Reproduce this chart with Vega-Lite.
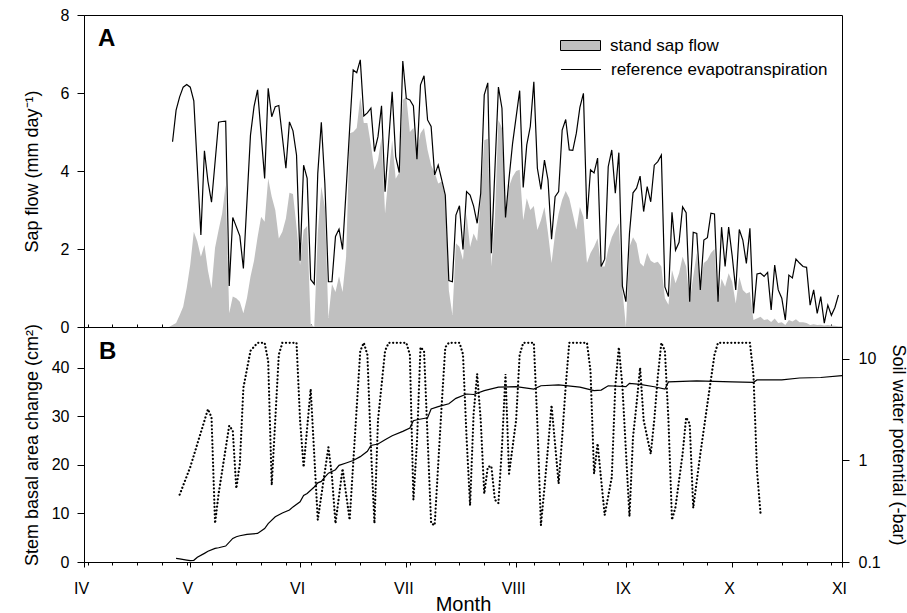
{
"$schema": "https://vega.github.io/schema/vega-lite/v6.json",
"background": "white",
"padding": {"left": 22, "top": 6, "right": 5, "bottom": 5},
"spacing": 0,
"bounds": "flush",
"config": {
  "view": {"stroke": "black", "strokeWidth": 1},
  "font": "Liberation Sans",
  "axis": {"domainColor": "black", "tickColor": "black", "labelColor": "black", "titleColor": "black", "labelFont": "Liberation Sans", "titleFont": "Liberation Sans", "labelFontSize": 16, "titleFontSize": 18, "titleFontWeight": "normal", "grid": false, "domainWidth": 1, "tickWidth": 1},
  "axisX": {"labelOverlap": false}
},
"datasets": {
  "panelA": [{"label": "A"}],
  "panelB": [{"label": "B"}],
  "sap": [
    {"d":24,"sap":0},{"d":25,"sap":0.05},{"d":26,"sap":0.1},{"d":27,"sap":0.3},{"d":28,"sap":0.52},{"d":29,"sap":1.0},{"d":30,"sap":1.6},{"d":31,"sap":2.44},{"d":32,"sap":2.19},{"d":33,"sap":1.8},{"d":34,"sap":2.1},{"d":35,"sap":1.44},{"d":36,"sap":0.99},{"d":37,"sap":2.03},{"d":38,"sap":2.49},{"d":39,"sap":2.91},{"d":40,"sap":3.64},{"d":41,"sap":0.35},{"d":42,"sap":0.78},{"d":43,"sap":0.74},{"d":44,"sap":0.65},{"d":45,"sap":0.35},{"d":46,"sap":0.74},{"d":47,"sap":1.29},{"d":48,"sap":1.7},{"d":49,"sap":2.3},{"d":50,"sap":2.83},{"d":51,"sap":2.7},{"d":52,"sap":3.81},{"d":53,"sap":3.34},{"d":54,"sap":3.0},{"d":55,"sap":2.27},{"d":56,"sap":2.44},{"d":57,"sap":2.78},{"d":58,"sap":3.44},{"d":59,"sap":3.41},{"d":60,"sap":2.57},{"d":61,"sap":1.59},{"d":62,"sap":2.49},{"d":63,"sap":2.59},{"d":64,"sap":0.08},{"d":65,"sap":0.0},{"d":66,"sap":2.4},{"d":67,"sap":3.6},{"d":68,"sap":3.08},{"d":69,"sap":0.23},{"d":70,"sap":1.1},{"d":71,"sap":0.9},{"d":72,"sap":1.3},{"d":73,"sap":0.9},{"d":74,"sap":1.8},{"d":75,"sap":4.97},{"d":76,"sap":5.0},{"d":77,"sap":5.1},{"d":78,"sap":5.9},{"d":79,"sap":5.23},{"d":80,"sap":5.23},{"d":81,"sap":4.67},{"d":82,"sap":4.03},{"d":83,"sap":4.28},{"d":84,"sap":4.85},{"d":85,"sap":2.91},{"d":86,"sap":3.9},{"d":87,"sap":4.79},{"d":88,"sap":3.8},{"d":89,"sap":3.96},{"d":90,"sap":5.82},{"d":91,"sap":5.9},{"d":92,"sap":5.0},{"d":93,"sap":5.1},{"d":94,"sap":4.54},{"d":95,"sap":4.97},{"d":96,"sap":5.1},{"d":97,"sap":4.54},{"d":98,"sap":4.15},{"d":99,"sap":3.96},{"d":100,"sap":3.68},{"d":101,"sap":3.73},{"d":102,"sap":3.34},{"d":103,"sap":0.95},{"d":104,"sap":0.31},{"d":105,"sap":2.15},{"d":106,"sap":2.06},{"d":107,"sap":1.72},{"d":108,"sap":2.9},{"d":109,"sap":2.05},{"d":110,"sap":2.4},{"d":111,"sap":2.2},{"d":112,"sap":3.3},{"d":113,"sap":4.79},{"d":114,"sap":4.83},{"d":115,"sap":1.55},{"d":116,"sap":2.8},{"d":117,"sap":5.31},{"d":118,"sap":5.1},{"d":119,"sap":2.82},{"d":120,"sap":3.6},{"d":121,"sap":3.85},{"d":122,"sap":4.0},{"d":123,"sap":4.03},{"d":124,"sap":2.74},{"d":125,"sap":3.3},{"d":126,"sap":3.0},{"d":127,"sap":3.1},{"d":128,"sap":2.49},{"d":129,"sap":2.74},{"d":130,"sap":3.08},{"d":131,"sap":2.41},{"d":132,"sap":1.64},{"d":133,"sap":2.4},{"d":134,"sap":2.91},{"d":135,"sap":3.26},{"d":136,"sap":3.49},{"d":137,"sap":3.3},{"d":138,"sap":2.9},{"d":139,"sap":2.5},{"d":140,"sap":3.08},{"d":141,"sap":2.82},{"d":142,"sap":1.64},{"d":143,"sap":1.9},{"d":144,"sap":2.06},{"d":145,"sap":2.27},{"d":146,"sap":1.55},{"d":147,"sap":1.55},{"d":148,"sap":2.0},{"d":149,"sap":2.3},{"d":150,"sap":2.49},{"d":151,"sap":2.66},{"d":152,"sap":0.95},{"d":153,"sap":0.0},{"d":154,"sap":2.06},{"d":155,"sap":2.3},{"d":156,"sap":2.15},{"d":157,"sap":1.64},{"d":158,"sap":1.55},{"d":159,"sap":1.9},{"d":160,"sap":1.7},{"d":161,"sap":1.64},{"d":162,"sap":1.67},{"d":163,"sap":1.55},{"d":164,"sap":0.74},{"d":165,"sap":0.57},{"d":166,"sap":1.46},{"d":167,"sap":1.12},{"d":168,"sap":1.38},{"d":169,"sap":1.8},{"d":170,"sap":1.55},{"d":171,"sap":0.65},{"d":172,"sap":1.29},{"d":173,"sap":1.9},{"d":174,"sap":1.12},{"d":175,"sap":1.64},{"d":176,"sap":1.72},{"d":177,"sap":1.9},{"d":178,"sap":2.0},{"d":179,"sap":0.65},{"d":180,"sap":1.24},{"d":181,"sap":1.03},{"d":182,"sap":1.38},{"d":183,"sap":1.16},{"d":184,"sap":0.6},{"d":185,"sap":1.29},{"d":186,"sap":0.95},{"d":187,"sap":0.86},{"d":188,"sap":0.9},{"d":189,"sap":0.18},{"d":190,"sap":0.22},{"d":191,"sap":0.26},{"d":192,"sap":0.18},{"d":193,"sap":0.2},{"d":194,"sap":0.13},{"d":195,"sap":0.22},{"d":196,"sap":0.1},{"d":197,"sap":0.12},{"d":198,"sap":0.05},{"d":199,"sap":0.18},{"d":200,"sap":0.14},{"d":201,"sap":0.2},{"d":202,"sap":0.12},{"d":203,"sap":0.12},{"d":204,"sap":0.1},{"d":205,"sap":0.05},{"d":206,"sap":0.07},{"d":207,"sap":0.05},{"d":208,"sap":0.06},{"d":209,"sap":0.04},{"d":210,"sap":0.05},{"d":211,"sap":0.04},{"d":212,"sap":0.03},{"d":213,"sap":0.02},{"d":214,"sap":0.02}
  ],
  "et": [
    {"d":25,"et":4.75},{"d":26,"et":5.56},{"d":27,"et":5.9},{"d":28,"et":6.15},{"d":29,"et":6.22},{"d":30,"et":6.15},{"d":31,"et":5.8},{"d":33,"et":2.36},{"d":34,"et":4.52},{"d":35,"et":3.73},{"d":36,"et":3.2},{"d":38,"et":5.25},{"d":39,"et":5.27},{"d":40,"et":5.28},{"d":41,"et":1.05},{"d":42,"et":2.81},{"d":44,"et":2.33},{"d":45,"et":1.5},{"d":47,"et":4.92},{"d":48,"et":5.65},{"d":49,"et":6.08},{"d":51,"et":3.81},{"d":52,"et":6.12},{"d":53,"et":5.39},{"d":54,"et":5.65},{"d":55,"et":5.68},{"d":57,"et":4.07},{"d":58,"et":5.26},{"d":59,"et":5.03},{"d":60,"et":4.41},{"d":61,"et":1.7},{"d":62,"et":4.15},{"d":63,"et":3.81},{"d":64,"et":1.22},{"d":65,"et":1.1},{"d":66,"et":3.94},{"d":67,"et":5.25},{"d":68,"et":3.68},{"d":69,"et":1.16},{"d":70,"et":1.16},{"d":71,"et":2.32},{"d":72,"et":2.51},{"d":73,"et":1.99},{"d":74,"et":3.51},{"d":75,"et":5.09},{"d":76,"et":6.59},{"d":77,"et":6.52},{"d":78,"et":6.85},{"d":79,"et":5.41},{"d":80,"et":5.49},{"d":81,"et":5.61},{"d":82,"et":4.5},{"d":83,"et":4.88},{"d":84,"et":5.67},{"d":85,"et":3.47},{"d":87,"et":6.03},{"d":88,"et":4.37},{"d":89,"et":3.96},{"d":90,"et":6.82},{"d":91,"et":5.86},{"d":92,"et":5.82},{"d":93,"et":5.67},{"d":94,"et":4.3},{"d":95,"et":6.21},{"d":96,"et":6.44},{"d":97,"et":5.31},{"d":98,"et":5.14},{"d":99,"et":3.9},{"d":100,"et":4.15},{"d":101,"et":3.77},{"d":102,"et":3.38},{"d":103,"et":1.19},{"d":104,"et":1.16},{"d":105,"et":2.87},{"d":106,"et":3.11},{"d":107,"et":1.99},{"d":108,"et":3.47},{"d":109,"et":3.38},{"d":110,"et":3.1},{"d":111,"et":2.66},{"d":112,"et":3.43},{"d":113,"et":5.95},{"d":114,"et":6.26},{"d":115,"et":1.89},{"d":117,"et":6.15},{"d":118,"et":5.61},{"d":119,"et":2.81},{"d":120,"et":3.81},{"d":121,"et":4.71},{"d":123,"et":6.06},{"d":124,"et":3.58},{"d":125,"et":4.67},{"d":126,"et":5.14},{"d":127,"et":6.29},{"d":128,"et":4.07},{"d":129,"et":3.53},{"d":130,"et":4.28},{"d":131,"et":3.77},{"d":132,"et":2.25},{"d":133,"et":3.34},{"d":134,"et":3.47},{"d":135,"et":5.05},{"d":136,"et":5.32},{"d":137,"et":4.54},{"d":138,"et":4.53},{"d":139,"et":4.97},{"d":140,"et":5.63},{"d":141,"et":5.99},{"d":142,"et":2.77},{"d":143,"et":4.03},{"d":144,"et":3.95},{"d":145,"et":4.33},{"d":146,"et":1.55},{"d":147,"et":1.74},{"d":148,"et":4.11},{"d":149,"et":4.54},{"d":150,"et":3.43},{"d":151,"et":4.47},{"d":152,"et":1.05},{"d":153,"et":0.65},{"d":154,"et":2.4},{"d":155,"et":3.44},{"d":156,"et":3.56},{"d":157,"et":3.87},{"d":158,"et":2.96},{"d":159,"et":3.6},{"d":160,"et":3.21},{"d":161,"et":4.15},{"d":162,"et":4.24},{"d":163,"et":4.41},{"d":164,"et":1.03},{"d":165,"et":0.78},{"d":166,"et":2.94},{"d":167,"et":1.97},{"d":168,"et":2.17},{"d":169,"et":3.08},{"d":170,"et":2.93},{"d":171,"et":0.65},{"d":172,"et":2.43},{"d":173,"et":2.4},{"d":174,"et":0.95},{"d":175,"et":2.23},{"d":176,"et":2.29},{"d":177,"et":2.92},{"d":178,"et":2.9},{"d":179,"et":0.65},{"d":180,"et":2.56},{"d":181,"et":1.55},{"d":182,"et":2.56},{"d":183,"et":1.82},{"d":184,"et":0.95},{"d":185,"et":2.5},{"d":186,"et":2.23},{"d":187,"et":1.63},{"d":188,"et":2.53},{"d":189,"et":0.35},{"d":190,"et":1.36},{"d":191,"et":1.38},{"d":192,"et":1.3},{"d":193,"et":1.4},{"d":194,"et":0.44},{"d":195,"et":1.59},{"d":196,"et":0.95},{"d":197,"et":0.74},{"d":198,"et":0.18},{"d":199,"et":1.33},{"d":200,"et":1.26},{"d":201,"et":1.74},{"d":202,"et":1.64},{"d":203,"et":1.55},{"d":204,"et":1.53},{"d":205,"et":0.56},{"d":206,"et":0.95},{"d":207,"et":0.35},{"d":208,"et":0.78},{"d":209,"et":0.1},{"d":210,"et":0.56},{"d":211,"et":0.3},{"d":212,"et":0.5},{"d":213,"et":0.82}
  ],
  "basal": [
    {"d":26,"basal":0.75},{"d":27,"basal":0.65},{"d":29,"basal":0.4},{"d":30,"basal":0.27},{"d":31,"basal":0.35},{"d":32,"basal":0.96},{"d":34,"basal":1.78},{"d":35,"basal":2.2},{"d":37,"basal":2.8},{"d":38,"basal":2.94},{"d":40,"basal":3.28},{"d":42,"basal":4.85},{"d":43,"basal":5.2},{"d":44,"basal":5.4},{"d":46,"basal":5.7},{"d":49,"basal":5.88},{"d":51,"basal":6.9},{"d":52,"basal":7.9},{"d":54,"basal":9.3},{"d":56,"basal":10.1},{"d":58,"basal":10.7},{"d":59,"basal":11.35},{"d":61,"basal":12.4},{"d":62,"basal":13.7},{"d":63,"basal":14.1},{"d":65,"basal":15.45},{"d":66,"basal":16.3},{"d":67,"basal":16.6},{"d":68,"basal":17.5},{"d":69,"basal":18.3},{"d":71,"basal":19.0},{"d":72,"basal":19.9},{"d":74,"basal":20.4},{"d":76,"basal":20.9},{"d":78,"basal":21.7},{"d":80,"basal":22.8},{"d":81,"basal":24.0},{"d":83,"basal":24.3},{"d":85,"basal":25.2},{"d":87,"basal":26.0},{"d":90,"basal":26.9},{"d":92,"basal":27.6},{"d":93,"basal":29.1},{"d":94,"basal":29.3},{"d":97,"basal":29.7},{"d":98,"basal":31.5},{"d":100,"basal":32.0},{"d":103,"basal":32.6},{"d":105,"basal":33.7},{"d":108,"basal":34.6},{"d":110,"basal":34.5},{"d":113,"basal":35.3},{"d":117,"basal":36.0},{"d":122,"basal":36.1},{"d":127,"basal":35.6},{"d":129,"basal":36.3},{"d":134,"basal":36.5},{"d":140,"basal":36.0},{"d":144,"basal":35.3},{"d":146,"basal":35.4},{"d":148,"basal":36.3},{"d":153,"basal":36.1},{"d":154,"basal":36.8},{"d":157,"basal":36.6},{"d":161,"basal":36.1},{"d":164,"basal":35.6},{"d":165,"basal":37.1},{"d":173,"basal":37.3},{"d":183,"basal":37.1},{"d":189,"basal":37.0},{"d":190,"basal":37.5},{"d":197,"basal":37.5},{"d":202,"basal":37.9},{"d":208,"basal":38.0},{"d":214,"basal":38.4}
  ],
  "swp": [
    {"d":27,"swp":0.46},{"d":30,"swp":0.86},{"d":35,"swp":3.2},{"d":36,"swp":2.65},{"d":37,"swp":0.24},{"d":38,"swp":0.47},{"d":41,"swp":2.2},{"d":42,"swp":1.97},{"d":43,"swp":0.53},{"d":44,"swp":0.93},{"d":45,"swp":5.2},{"d":47,"swp":12.0},{"d":49,"swp":14.4},{"d":51,"swp":14.4},{"d":52,"swp":9.5},{"d":53,"swp":0.57},{"d":55,"swp":11.0},{"d":56,"swp":14.4},{"d":60,"swp":14.4},{"d":61,"swp":2.5},{"d":62,"swp":0.86},{"d":64,"swp":5.05},{"d":66,"swp":0.26},{"d":67,"swp":0.45},{"d":69,"swp":1.35},{"d":70,"swp":0.7},{"d":71,"swp":0.24},{"d":73,"swp":0.83},{"d":75,"swp":0.26},{"d":76,"swp":0.93},{"d":78,"swp":12.0},{"d":79,"swp":14.4},{"d":80,"swp":11.0},{"d":81,"swp":1.35},{"d":82,"swp":0.24},{"d":83,"swp":2.5},{"d":85,"swp":12.0},{"d":86,"swp":14.4},{"d":91,"swp":14.4},{"d":92,"swp":11.0},{"d":93,"swp":0.41},{"d":94,"swp":1.5},{"d":95,"swp":13.0},{"d":96,"swp":12.0},{"d":98,"swp":0.24},{"d":99,"swp":0.23},{"d":101,"swp":3.6},{"d":102,"swp":13.0},{"d":103,"swp":14.4},{"d":106,"swp":14.4},{"d":107,"swp":11.1},{"d":108,"swp":1.7},{"d":109,"swp":0.36},{"d":110,"swp":2.9},{"d":111,"swp":7.1},{"d":112,"swp":2.5},{"d":113,"swp":0.47},{"d":114,"swp":0.86},{"d":115,"swp":0.88},{"d":116,"swp":0.41},{"d":117,"swp":0.38},{"d":118,"swp":1.35},{"d":119,"swp":7.1},{"d":120,"swp":0.74},{"d":122,"swp":2.5},{"d":123,"swp":11.0},{"d":124,"swp":14.4},{"d":127,"swp":14.4},{"d":128,"swp":2.3},{"d":129,"swp":0.23},{"d":130,"swp":0.54},{"d":131,"swp":1.35},{"d":132,"swp":3.5},{"d":134,"swp":0.59},{"d":135,"swp":1.7},{"d":136,"swp":5.4},{"d":137,"swp":14.4},{"d":142,"swp":14.4},{"d":143,"swp":7.6},{"d":144,"swp":0.74},{"d":145,"swp":1.47},{"d":146,"swp":0.65},{"d":147,"swp":0.29},{"d":149,"swp":0.68},{"d":150,"swp":5.4},{"d":151,"swp":13.0},{"d":152,"swp":5.4},{"d":154,"swp":0.28},{"d":155,"swp":1.7},{"d":156,"swp":3.6},{"d":157,"swp":8.2},{"d":158,"swp":2.5},{"d":160,"swp":1.16},{"d":161,"swp":2.5},{"d":162,"swp":6.7},{"d":163,"swp":14.4},{"d":164,"swp":12.0},{"d":165,"swp":2.5},{"d":166,"swp":0.26},{"d":167,"swp":0.35},{"d":169,"swp":1.16},{"d":170,"swp":2.65},{"d":171,"swp":2.3},{"d":172,"swp":0.34},{"d":174,"swp":1.16},{"d":176,"swp":3.6},{"d":178,"swp":11.0},{"d":179,"swp":14.4},{"d":188,"swp":14.4},{"d":189,"swp":7.0},{"d":190,"swp":0.8},{"d":191,"swp":0.3}
  ]
},
"vconcat": [
  {
    "width": 758,
    "height": 312,
    "layer": [
      {
        "data": {"name": "sap"},
        "mark": {"type": "area", "interpolate": "linear"},
        "encoding": {
          "x": {"field": "d", "type": "quantitative", "scale": {"domain": [0, 214], "nice": false, "zero": false},
                "axis": {"values": [0,1,8,15,22,29,30,36,43,50,57,61,64,71,78,85,91,92,99,106,113,120,122,127,134,141,148,153,155,162,169,176,183,190,197,204,211,214], "tickCount": 200, "labels": false, "title": null, "tickSize": -3}},
          "y": {"field": "sap", "type": "quantitative", "scale": {"domain": [0, 8], "nice": false},
                "axis": {"values": [0,2,4,6,8], "title": "Sap flow (mm day⁻¹)", "tickSize": 7, "labelPadding": 8, "titleX": -43}},
          "fill": {"datum": "stand sap flow", "type": "nominal", "scale": {"range": ["#c0c0c0"]},
                   "legend": {"title": null, "orient": "none", "legendX": 476, "legendY": 10, "padding": 0, "symbolType": "M-1,-0.25H1V0.25H-1Z", "symbolSize": 1600, "symbolStrokeColor": "black", "symbolStrokeWidth": 1, "labelFont": "Liberation Sans", "labelFontSize": 17, "labelColor": "black", "labelOffset": 9, "labelLimit": 0}}
        }
      },
      {
        "data": {"name": "et"},
        "mark": {"type": "line", "strokeWidth": 1.2},
        "encoding": {
          "x": {"field": "d", "type": "quantitative"},
          "y": {"field": "et", "type": "quantitative"},
          "stroke": {"datum": "reference evapotranspiration", "type": "nominal", "scale": {"range": ["black"]},
                     "legend": {"title": null, "orient": "none", "legendX": 476, "legendY": 33.5, "padding": 0, "symbolType": "stroke", "symbolSize": 1600, "symbolStrokeWidth": 1.2, "labelFont": "Liberation Sans", "labelFontSize": 17, "labelColor": "black", "labelOffset": 9, "labelLimit": 0}}
        }
      },
      {
        "data": {"name": "panelA"},
        "mark": {"type": "text", "align": "left", "baseline": "alphabetic", "font": "Liberation Sans", "fontSize": 24, "fontWeight": "bold", "color": "black"},
        "encoding": {
          "x": {"datum": 3.95, "type": "quantitative"},
          "y": {"datum": 7.2, "type": "quantitative"},
          "text": {"field": "label"}
        }
      }
    ]
  },
  {
    "width": 758,
    "height": 235,
    "layer": [
      {
        "data": {"name": "basal"},
        "mark": {"type": "line", "color": "black", "strokeWidth": 1.2},
        "encoding": {
          "x": {"field": "d", "type": "quantitative", "scale": {"domain": [0, 214], "nice": false, "zero": false},
                "axis": {"values": [0,1,8,15,22,29,30,36,43,50,57,61,64,71,78,85,91,92,99,106,113,120,122,127,134,141,148,153,155,162,169,176,183,190,197,204,211,214],
                         "tickCount": 200,
                         "labelExpr": "datum.value==0?'IV':datum.value==30?'V':datum.value==61?'VI':datum.value==91?'VII':datum.value==122?'VIII':datum.value==153?'IX':datum.value==183?'X':datum.value==214?'XI':''",
                         "tickSize": {"condition": {"test": "indexof([0,30,61,91,122,153,183,214], datum.value) >= 0", "value": 5}, "value": 3},
                         "labelFontSize": {"condition": {"test": "indexof([0,30,61,91,122,153,183,214], datum.value) >= 0", "value": 16}, "value": 0},
                         "labelOverlap": false, "labelFlush": false, "labelBound": false, "labelPadding": 13, "labelOffset": -3,
                         "title": "Month", "titleFontSize": 20, "titlePadding": -2}},
          "y": {"field": "basal", "type": "quantitative", "scale": {"domain": [0, 48.4], "nice": false},
                "axis": {"values": [0,10,20,30,40], "title": "Stem basal area change (cm²)", "tickSize": 7, "labelPadding": 8, "titleX": -43}}
        }
      },
      {
        "data": {"name": "swp"},
        "mark": {"type": "line", "color": "black", "strokeWidth": 2.2, "strokeDash": [0.1, 3.6], "strokeCap": "round"},
        "encoding": {
          "x": {"field": "d", "type": "quantitative"},
          "y": {"field": "swp", "type": "quantitative", "scale": {"type": "log", "domain": [0.1, 20.6], "nice": false},
                "axis": {"orient": "right", "values": [0.1, 1, 10], "format": "~g", "title": "Soil water potential (-bar)", "tickSize": 7, "labelPadding": 9, "titleX": 46}}
        }
      },
      {
        "data": {"name": "panelB"},
        "mark": {"type": "text", "align": "left", "baseline": "alphabetic", "font": "Liberation Sans", "fontSize": 24, "fontWeight": "bold", "color": "black"},
        "encoding": {
          "x": {"datum": 4.2, "type": "quantitative"},
          "y": {"datum": 41.8, "type": "quantitative", "scale": {"domain": [0, 48.4], "nice": false}, "axis": null},
          "text": {"field": "label"}
        }
      }
    ],
    "resolve": {"scale": {"y": "independent"}}
  }
]
}
